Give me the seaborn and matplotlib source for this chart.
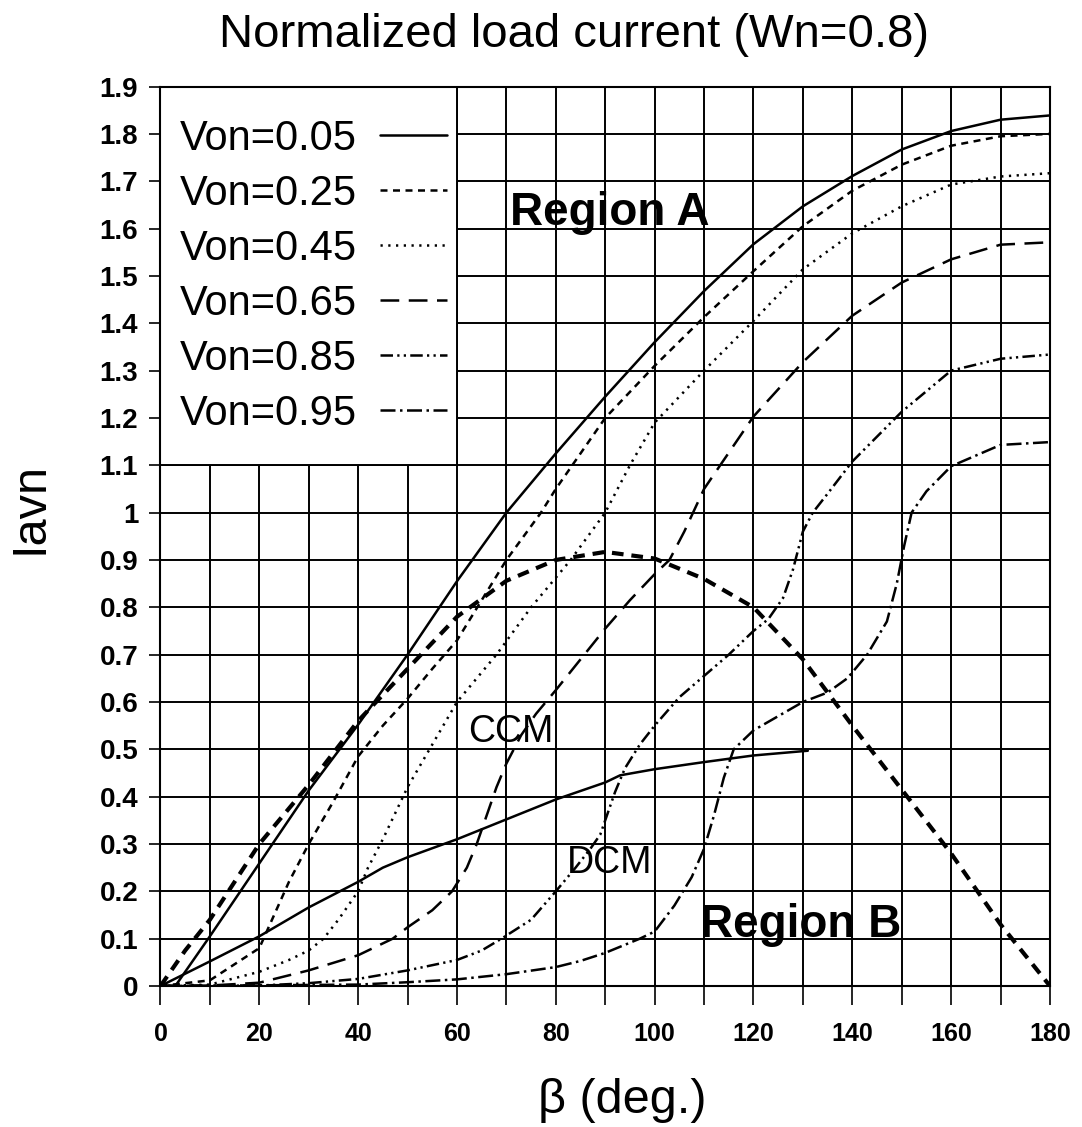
import numpy as np
import pandas as pd
import matplotlib
matplotlib.use("Agg")
import matplotlib.pyplot as plt
from matplotlib.patches import Rectangle
import seaborn as sns

# ---------------- data ----------------
TITLE = "Normalized load current (Wn=0.8)"
XLABEL = "β (deg.)"
YLABEL = "Iavn"

beta_005 = [0, 3, 10, 20, 30, 40, 50, 60, 70, 80, 90, 100, 110, 120, 130, 140, 150, 160, 170, 180]
iavn_005 = [0, 0.0, 0.105, 0.259, 0.413, 0.552, 0.70, 0.855, 1.0, 1.125, 1.245, 1.36, 1.468, 1.567, 1.647, 1.711, 1.767, 1.806, 1.83, 1.839]

beta_025 = [0, 10, 20, 23, 26, 30, 35, 40, 45, 50, 55, 60, 65, 70, 77, 80, 90, 100, 110, 120, 130, 140, 150, 160, 170, 180]
iavn_025 = [0, 0.012, 0.08, 0.15, 0.22, 0.30, 0.39, 0.485, 0.55, 0.607, 0.67, 0.73, 0.815, 0.90, 1.0, 1.05, 1.2, 1.31, 1.413, 1.51, 1.605, 1.68, 1.735, 1.775, 1.795, 1.80]

beta_045 = [0, 10, 20, 26, 30, 33, 36, 40, 42, 45, 50, 55, 60, 68, 75, 83, 90, 95, 100, 110, 120, 130, 140, 150, 160, 170, 180]
iavn_045 = [0, 0.003, 0.03, 0.055, 0.075, 0.1, 0.14, 0.2, 0.25, 0.31, 0.42, 0.51, 0.60, 0.70, 0.80, 0.90, 1.0, 1.1, 1.19, 1.30, 1.405, 1.514, 1.59, 1.647, 1.693, 1.71, 1.717]

beta_065 = [0, 10, 20, 30, 40, 47, 50, 55, 59, 62, 64, 66, 68, 70, 73, 76, 80, 85, 90, 95, 100, 103, 106, 110, 120, 130, 140, 150, 160, 170, 180]
iavn_065 = [0, 0.001, 0.007, 0.033, 0.065, 0.1, 0.124, 0.16, 0.2, 0.25, 0.30, 0.36, 0.42, 0.47, 0.53, 0.575, 0.625, 0.69, 0.755, 0.815, 0.87, 0.9, 0.96, 1.05, 1.203, 1.318, 1.416, 1.486, 1.535, 1.566, 1.571]

beta_085 = [0, 20, 30, 40, 50, 60, 65, 69, 75, 80, 84, 87, 89, 91, 92, 94, 97, 100, 105, 110, 115, 120, 123, 126, 128, 130, 132, 135, 140, 150, 160, 170, 180]
iavn_085 = [0, 0.001, 0.006, 0.015, 0.033, 0.055, 0.075, 0.1, 0.14, 0.2, 0.25, 0.29, 0.32, 0.38, 0.41, 0.46, 0.51, 0.55, 0.61, 0.655, 0.70, 0.75, 0.775, 0.82, 0.88, 0.96, 1.0, 1.04, 1.108, 1.213, 1.30, 1.325, 1.334]

beta_095 = [0, 40, 50, 60, 70, 80, 85, 90, 97, 100, 104, 107.5, 110, 112, 114, 116, 120, 125, 130, 135, 139, 143, 147, 149, 150.5, 152, 155, 160, 170, 180]
iavn_095 = [0, 0.003, 0.008, 0.014, 0.025, 0.04, 0.053, 0.07, 0.10, 0.115, 0.17, 0.23, 0.29, 0.36, 0.44, 0.50, 0.54, 0.57, 0.60, 0.62, 0.65, 0.70, 0.77, 0.85, 0.93, 1.0, 1.045, 1.098, 1.143, 1.149]

# CCM / DCM boundary (thick dashed) and region boundary (solid)
beta_bound = [0, 5, 10, 20, 30, 40, 50, 60, 70, 80, 90, 100, 110, 120, 130, 140, 150, 160, 170, 180]
iavn_bound = [0, 0.075, 0.14, 0.30, 0.425, 0.56, 0.67, 0.78, 0.856, 0.90, 0.917, 0.903, 0.86, 0.80, 0.69, 0.55, 0.415, 0.28, 0.13, 0]

beta_ccmdcm = [0, 10, 20, 30, 40, 45, 50, 60, 70, 80, 90, 93, 100, 110, 120, 131]
iavn_ccmdcm = [0, 0.052, 0.105, 0.166, 0.22, 0.25, 0.272, 0.31, 0.352, 0.394, 0.43, 0.445, 0.458, 0.473, 0.487, 0.497]

SERIES_LABELS = ["Von=0.05", "Von=0.25", "Von=0.45", "Von=0.65", "Von=0.85", "Von=0.95"]

XTICKS = [0, 20, 40, 60, 80, 100, 120, 140, 160, 180]
XTICK_LABELS = ["0", "20", "40", "60", "80", "100", "120", "140", "160", "180"]
YTICKS = [0, 0.1, 0.2, 0.3, 0.4, 0.5, 0.6, 0.7, 0.8, 0.9, 1.0, 1.1, 1.2, 1.3, 1.4, 1.5, 1.6, 1.7, 1.8, 1.9]
YTICK_LABELS = ["0", "0.1", "0.2", "0.3", "0.4", "0.5", "0.6", "0.7", "0.8", "0.9", "1",
                "1.1", "1.2", "1.3", "1.4", "1.5", "1.6", "1.7", "1.8", "1.9"]

# ---------------- styling ----------------
sns.set_theme(style="white")
plt.rcParams["font.family"] = ["Liberation Sans", "DejaVu Sans"]
plt.rcParams["text.color"] = "black"
plt.rcParams["axes.labelcolor"] = "black"
plt.rcParams["xtick.color"] = "black"
plt.rcParams["ytick.color"] = "black"

fig = plt.figure(figsize=(10.82, 11.27), dpi=100)
ax = fig.add_axes([0.1483, 0.1251, 0.8221, 0.7981])

LW = 1.8
styles = [
    "-",
    (0, (2.8, 2.2)),
    (0, (0.9, 2.2)),
    (0, (7.5, 3.8)),
    (0, (5.0, 1.7, 0.9, 1.7, 0.9, 1.7)),
    (0, (6.0, 1.8, 1.0, 1.8)),
]
series = [
    (beta_005, iavn_005), (beta_025, iavn_025), (beta_045, iavn_045),
    (beta_065, iavn_065), (beta_085, iavn_085), (beta_095, iavn_095),
]

for (bx, by), lab, ls in zip(series, SERIES_LABELS, styles):
    df = pd.DataFrame({"beta": bx, "iavn": by})
    sns.lineplot(data=df, x="beta", y="iavn", ax=ax, color="black", lw=LW,
                 linestyle=ls, label=lab, estimator=None, sort=False, legend=False)

df_b = pd.DataFrame({"beta": beta_bound, "iavn": iavn_bound})
sns.lineplot(data=df_b, x="beta", y="iavn", ax=ax, color="black", lw=3.0,
             linestyle=(0, (2.8, 1.9)), estimator=None, sort=False, legend=False)
df_c = pd.DataFrame({"beta": beta_ccmdcm, "iavn": iavn_ccmdcm})
sns.lineplot(data=df_c, x="beta", y="iavn", ax=ax, color="black", lw=LW,
             linestyle="-", estimator=None, sort=False, legend=False)

ax.set_xlim(0, 180)
ax.set_ylim(0, 1.9)
ax.set_xticks(XTICKS)
ax.set_xticklabels(XTICK_LABELS)
ax.set_xticks(np.arange(10, 180, 20), minor=True)
ax.set_yticks(YTICKS)
ax.set_yticklabels(YTICK_LABELS)

ax.set_axisbelow(True)
ax.grid(True, which="both", color="black", lw=1.4)
for s in ax.spines.values():
    s.set_color("black")
    s.set_linewidth(1.5)

ax.tick_params(axis="x", which="both", direction="out", length=14, width=1.2,
               pad=12, labelsize=18, colors="black", bottom=True)
ax.tick_params(axis="y", which="both", direction="out", length=8, width=1.2,
               pad=8, labelsize=20, colors="black", left=True)
for t in ax.get_xticklabels() + ax.get_yticklabels():
    t.set_fontweight("bold")

# legend background block (covers grid cells)
ax.add_patch(Rectangle((0, 1.1), 60, 0.8, facecolor="white", edgecolor="black",
                       lw=1.4, zorder=1.5))
handles, labels = ax.get_legend_handles_labels()
leg = ax.legend(handles[:6], labels[:6], loc="upper left",
                bbox_to_anchor=(0.0219, 0.964), frameon=False, fontsize=30,
                markerfirst=False, handlelength=1.6, handletextpad=0.55,
                labelspacing=0.36, borderpad=0, borderaxespad=0)
leg.set_zorder(5)

# annotations
ax.text(90.9, 1.607, "Region A", fontsize=33, fontweight="bold", ha="center", va="baseline")
ax.text(129.5, 0.103, "Region B", fontsize=33, fontweight="bold", ha="center", va="baseline")
ax.text(70.9, 0.515, "CCM", fontsize=27, ha="center", va="baseline")
ax.text(90.9, 0.238, "DCM", fontsize=27, ha="center", va="baseline")

# titles / labels
fig.text(574 / 1082, 1 - 46.7 / 1127, TITLE, fontsize=34, ha="center", va="baseline")
ax.set_xlabel(XLABEL, fontsize=35)
ax.xaxis.set_label_coords(0.519, -0.141)
ax.xaxis.label.set_verticalalignment("baseline")
ax.set_ylabel(YLABEL, fontsize=35)
ax.yaxis.set_label_coords(-0.1467, 0.531)
ax.yaxis.label.set_verticalalignment("center")

fig.savefig("out.png", dpi=100, facecolor="white")
